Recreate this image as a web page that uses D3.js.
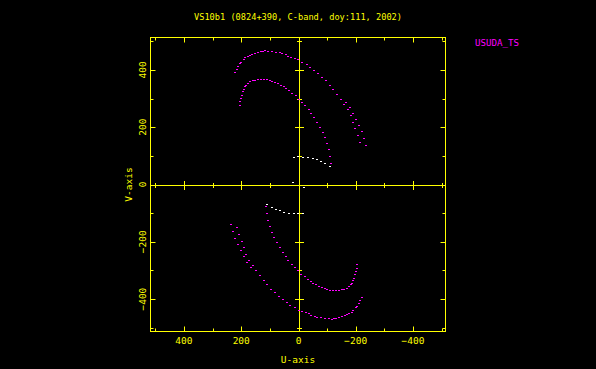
<!DOCTYPE html>
<html>
<head>
<meta charset="utf-8">
<script src="https://cdn.jsdelivr.net/npm/d3@7"></script>
<style>
  html, body { margin: 0; padding: 0; background: #000; }
  svg { display: block; }
  text { font-family: "DejaVu Sans Mono", "Liberation Mono", monospace; fill: #ffff00; }
</style>
</head>
<body>
<svg id="chart" width="596" height="369"></svg>
<script>
// ---- data ----
const title = "VS10b1 (0824+390, C-band, doy:111, 2002)";
const legendLabel = "USUDA_TS";
const xLabel = "U-axis";
const yLabel = "V-axis";
const tickValuesMajor = [-400, -200, 0, 200, 400];
const tickLabels = ["\u2212400", "\u2212200", "0", "200", "400"];
const tickValuesMinor = [-500, -300, -100, 100, 300, 500];

// magenta track 1 (outer arc, upper half) [u, v]
const outerUpper = [[220,391],[216,404],[211,414],[204,423],[201,429],[192,437],[186,444],[178,449],[170,452],[161,457],[152,460],[143,463],[132,465],[124,467],[116,469],[105,467],[92,467],[80,464],[66,461],[57,458],[45,455],[37,450],[25,445],[13,440],[1,437],[-13,429],[-28,419],[-41,410],[-55,399],[-67,389],[-81,376],[-95,363],[-109,348],[-122,333],[-136,316],[-147,299],[-159,281],[-166,288],[-172,262],[-180,269],[-191,251],[-182,241],[-201,230],[-192,218],[-212,209],[-199,196],[-222,186],[-208,173],[-230,162],[-215,147],[-234,137]];
// magenta track 1 (outer arc, lower half)
const outerLower = [[-220,-391],[-216,-404],[-211,-414],[-204,-423],[-201,-429],[-192,-437],[-186,-444],[-178,-449],[-170,-452],[-161,-457],[-152,-460],[-143,-463],[-132,-465],[-124,-467],[-116,-469],[-105,-467],[-92,-467],[-80,-464],[-66,-461],[-57,-458],[-45,-455],[-37,-450],[-25,-445],[-13,-440],[-1,-437],[13,-429],[28,-419],[41,-410],[55,-399],[67,-389],[81,-376],[95,-363],[109,-348],[122,-333],[136,-316],[147,-299],[159,-281],[166,-288],[172,-262],[180,-269],[191,-251],[182,-241],[201,-230],[192,-218],[212,-209],[199,-196],[222,-186],[208,-173],[230,-162],[215,-147],[234,-137]];
// magenta track 2 (inner arc, upper half)
const innerUpper = [[203,278],[203,292],[201,302],[198,314],[194,326],[191,334],[187,342],[182,348],[176,354],[168,360],[160,363],[152,366],[143,367],[132,368],[122,369],[110,367],[100,364],[91,361],[83,357],[72,353],[62,348],[51,343],[43,337],[32,330],[21,321],[9,311],[-1,300],[-12,288],[-22,276],[-35,264],[-45,250],[-53,235],[-64,217],[-74,202],[-84,183],[-92,166],[-99,145],[-105,124],[-111,101],[-115,76]];
// magenta track 2 (inner arc, lower half)
const innerLower = [[-203,-278],[-203,-292],[-201,-302],[-198,-314],[-194,-326],[-191,-334],[-187,-342],[-182,-348],[-176,-354],[-168,-360],[-160,-363],[-152,-366],[-143,-367],[-132,-368],[-122,-369],[-110,-367],[-100,-364],[-91,-361],[-83,-357],[-72,-353],[-62,-348],[-51,-343],[-43,-337],[-32,-330],[-21,-321],[-9,-311],[1,-300],[12,-288],[22,-276],[35,-264],[45,-250],[53,-235],[64,-217],[74,-202],[84,-183],[92,-166],[99,-145],[105,-124],[111,-101],[115,-76]];
// white short-baseline tracks
const whiteUpper = [[16,97],[1,98],[-16,97],[-32,95],[-49,92],[-64,89],[-78,82],[-91,75],[-109,64],[20,10]];
const whiteLower = [[110,-68],[92,-79],[79,-85],[65,-90],[49,-95],[34,-98],[17,-100],[2,-101],[-14,-100],[-20,-10]];

// ---- layout ----
const svg = d3.select("#chart");
svg.append("rect").attr("width", 596).attr("height", 369).attr("fill", "#000");

const x = d3.scaleLinear().domain([515, -515]).range([151, 446]);
const y = d3.scaleLinear().domain([-513, 513]).range([331.5, 37.5]);
const L = 150.5, R = 445.5, T = 37.5, B = 331.5;
const X0 = Math.round(x(0)) + 0.5, Y0 = Math.round(y(0)) + 0.5;
const yellow = "#ffff00";
const px = v => Math.round(x(v)) + 0.5;
const py = v => Math.round(y(v)) + 0.5;

const g = svg.append("g").attr("stroke", yellow).attr("stroke-width", 1).attr("fill", "none");
// box
g.append("rect").attr("x", L).attr("y", T).attr("width", R - L).attr("height", B - T);
// zero axes
g.append("line").attr("x1", L).attr("x2", R).attr("y1", Y0).attr("y2", Y0);
g.append("line").attr("x1", X0).attr("x2", X0).attr("y1", T).attr("y2", B);

const MAJ = 5, MIN = 3, ZMAJ = 4.5, ZMIN = 2.5;
function ticks(vals, len, zlen) {
  vals.forEach(v => {
    const xx = px(v), yy = py(v);
    g.append("line").attr("x1", xx).attr("x2", xx).attr("y1", B).attr("y2", B - len);
    g.append("line").attr("x1", xx).attr("x2", xx).attr("y1", T).attr("y2", T + len);
    g.append("line").attr("x1", L).attr("x2", L + len).attr("y1", yy).attr("y2", yy);
    g.append("line").attr("x1", R).attr("x2", R - len).attr("y1", yy).attr("y2", yy);
    g.append("line").attr("x1", xx).attr("x2", xx).attr("y1", Y0 - zlen).attr("y2", Y0 + zlen);
    g.append("line").attr("x1", X0 - zlen).attr("x2", X0 + zlen).attr("y1", yy).attr("y2", yy);
  });
}
ticks(tickValuesMajor, MAJ, ZMAJ);
ticks(tickValuesMinor, MIN, ZMIN);

// tick labels
const fs = 9.5;
svg.append("g").selectAll("text").data(tickValuesMajor).join("text")
  .attr("x", d => x(d)).attr("y", 343.5)
  .attr("text-anchor", "middle").attr("font-size", fs)
  .text((d, i) => tickLabels[i]);
svg.append("g").selectAll("text").data(tickValuesMajor).join("text")
  .attr("transform", d => `translate(145.5,${y(d)}) rotate(-90)`)
  .attr("text-anchor", "middle").attr("font-size", fs)
  .text((d, i) => tickLabels[i]);

// axis titles
svg.append("text").attr("x", 298).attr("y", 362.5).attr("text-anchor", "middle")
  .attr("font-size", fs).text(xLabel);
svg.append("text").attr("transform", "translate(131.5,184.5) rotate(-90)")
  .attr("text-anchor", "middle").attr("font-size", fs).text(yLabel);
// title
svg.append("text").attr("x", 298).attr("y", 20).attr("text-anchor", "middle")
  .attr("font-size", fs).attr("textLength", 208).attr("lengthAdjust", "spacingAndGlyphs")
  .text(title);
// legend
svg.append("text").attr("x", 475).attr("y", 45.5).attr("font-size", fs)
  .attr("textLength", 44).attr("lengthAdjust", "spacingAndGlyphs")
  .style("fill", "#ff00ff").text(legendLabel);

// points
function dots(data, color) {
  svg.append("g").attr("shape-rendering", "crispEdges").selectAll("rect").data(data).join("rect")
    .attr("x", d => Math.round(x(d[0])) - 1)
    .attr("y", d => Math.round(y(d[1])))
    .attr("width", 2).attr("height", 1)
    .attr("fill", color);
}
dots(outerUpper, "#ff00ff");
dots(outerLower, "#ff00ff");
dots(innerUpper, "#ff00ff");
dots(innerLower, "#ff00ff");
dots(whiteUpper, "#ffffff");
dots(whiteLower, "#ffffff");
</script>
</body>
</html>
